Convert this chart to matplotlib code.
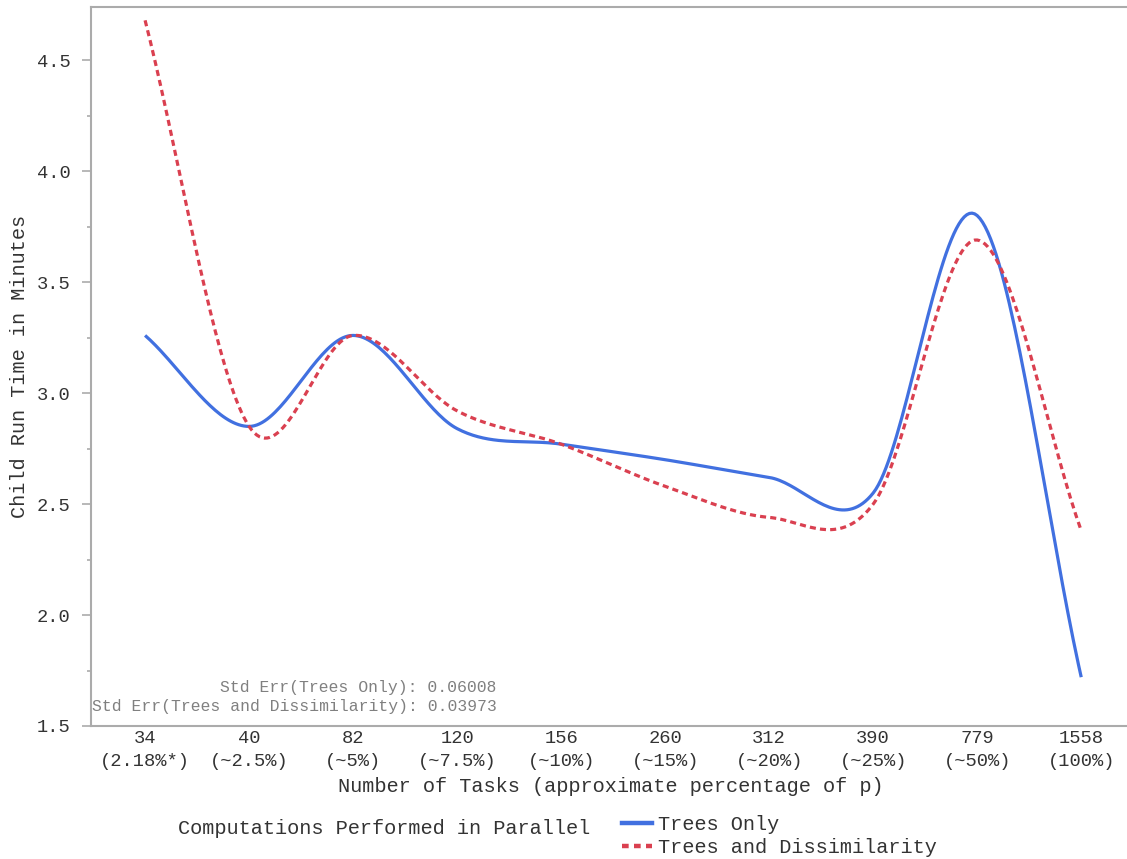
import numpy as np
import matplotlib
matplotlib.use("Agg")
import matplotlib.pyplot as plt
from matplotlib.ticker import MultipleLocator
from matplotlib.lines import Line2D

# ---------------- data ----------------
tasks = ["34", "40", "82", "120", "156", "260", "312", "390", "779", "1558"]
pct = ["(2.18%*)", "(~2.5%)", "(~5%)", "(~7.5%)", "(~10%)",
       "(~15%)", "(~20%)", "(~25%)", "(~50%)", "(100%)"]
trees_only = [3.26, 2.85, 3.26, 2.84, 2.77, 2.70, 2.62, 2.55, 3.80, 1.72]
trees_dissim = [4.68, 2.85, 3.26, 2.92, 2.77, 2.58, 2.44, 2.50, 3.69, 2.38]
stderr_only = 0.06008
stderr_dissim = 0.03973

BLUE = "#4170E0"
RED = "#DA4050"
GRID = "#ababab"
TXT = "#333333"
MONO = ["Liberation Mono", "DejaVu Sans Mono"]


def smooth(y, n=40):
    # cubic Hermite (Catmull-Rom tangents) through every point
    y = np.asarray(y, float)
    k = len(y)
    m = np.empty(k)
    m[1:-1] = (y[2:] - y[:-2]) / 2.0
    m[0] = y[1] - y[0]
    m[-1] = y[-1] - y[-2]
    xs, ys = [], []
    for i in range(k - 1):
        t = np.linspace(0, 1, n, endpoint=(i == k - 2))
        h00 = 2 * t**3 - 3 * t**2 + 1
        h10 = t**3 - 2 * t**2 + t
        h01 = -2 * t**3 + 3 * t**2
        h11 = t**3 - t**2
        xs.append(i + t)
        ys.append(h00 * y[i] + h10 * m[i] + h01 * y[i + 1] + h11 * m[i + 1])
    return np.concatenate(xs), np.concatenate(ys)


plt.rcParams["font.family"] = MONO

W, H = 1127, 859
fig = plt.figure(figsize=(W / 100, H / 100), dpi=100)
ax = fig.add_axes([91 / W, 133 / H, 1036 / W, 719 / H])

x = np.arange(len(tasks))
xb, yb = smooth(trees_only)
xr, yr = smooth(trees_dissim)
ax.plot(xb, yb, color=BLUE, lw=2.3, solid_capstyle="butt", label="Trees Only")
ax.plot(xr, yr, color=RED, lw=2.3, ls=(0, (1.9, 1.3)), label="Trees and Dissimilarity")

ax.set_xlim(-0.52, 9.44)
ax.set_ylim(1.5, 4.74)

ax.set_xticks(x)
ax.set_xticklabels([f"{a}\n{b}" for a, b in zip(tasks, pct)], linespacing=1.45)
ax.tick_params(axis="x", length=0, pad=3, labelsize=13.5, labelcolor=TXT)

ax.yaxis.set_major_locator(MultipleLocator(0.5))
ax.yaxis.set_minor_locator(MultipleLocator(0.25))
ax.tick_params(axis="y", which="major", length=6.5, width=1.2, color=GRID,
               pad=8, labelsize=13.5, labelcolor=TXT)
ax.tick_params(axis="y", which="minor", length=3, width=1.2, color=GRID)

for s in ["left", "top", "bottom"]:
    ax.spines[s].set_color(GRID)
    ax.spines[s].set_linewidth(1.5)
ax.spines["right"].set_visible(False)

fig.text(20 / W, 1 - 366 / H, "Child Run Time in Minutes", rotation=90,
         ha="center", va="center", fontsize=14.6, color=TXT)
fig.text(611 / W, 1 - 786 / H, "Number of Tasks (approximate percentage of p)",
         ha="center", va="center", fontsize=14.6, color=TXT)

ax.text(497 / W, 1 - 697 / H,
        f"Std Err(Trees Only): {stderr_only:.5f}\n"
        f"Std Err(Trees and Dissimilarity): {stderr_dissim:.5f}",
        transform=fig.transFigure, ha="right", va="center", multialignment="right",
        fontsize=11.8, color="#808080", linespacing=1.3)

fig.text(178 / W, 1 - 829 / H, "Computations Performed in Parallel",
         ha="left", va="center", fontsize=14.6, color=TXT)
handles = [Line2D([], [], color=BLUE, lw=3.2),
           Line2D([], [], color=RED, lw=3.2, ls=(0, (1.5, 1.2)))]
fig.legend(handles, ["Trees Only", "Trees and Dissimilarity"],
           loc="upper left", bbox_to_anchor=(622 / W, 1 - 815 / H),
           frameon=False, fontsize=14.6, handlelength=1.5, handletextpad=0.3,
           labelspacing=0.2, borderpad=0, borderaxespad=0, labelcolor=TXT)

fig.savefig("out.png", dpi=100)
